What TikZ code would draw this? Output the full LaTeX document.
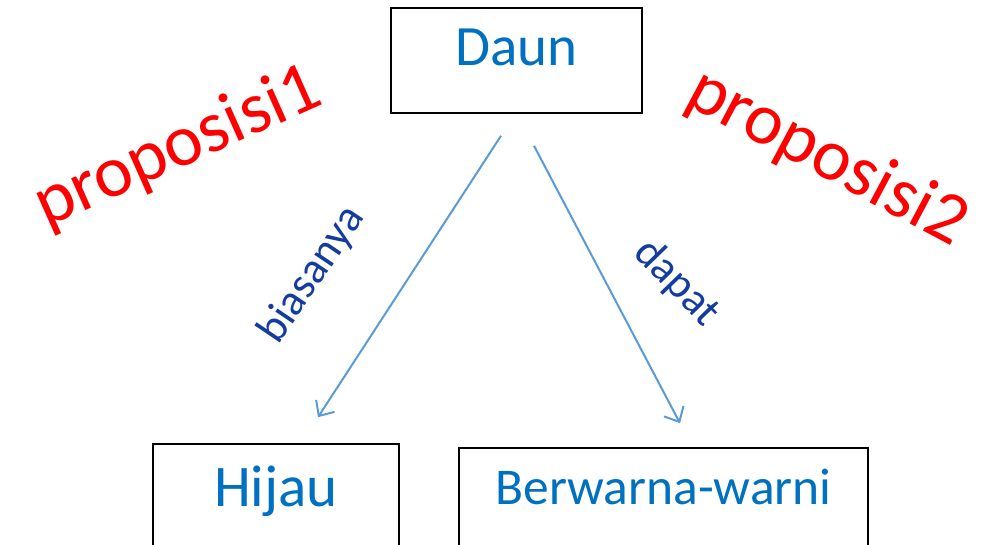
\documentclass[tikz,border=0pt]{standalone}
\usepackage{fontspec}
\setmainfont{Carlito}
\usepackage{xcolor}
\usepackage{tikz}
\usetikzlibrary{calc,arrows.meta}

\definecolor{boxtext}{RGB}{0,112,192}
\definecolor{linkblue}{RGB}{91,155,213}
\definecolor{labelblue}{RGB}{20,60,160}

\begin{document}
\begin{tikzpicture}[x=1pt,y=-1pt,
  box/.style={draw=black,line width=1.6pt,inner sep=0pt,anchor=base,text=boxtext},
  link/.style={draw=linkblue,line width=2pt,-{Straight Barb[length=12pt,width=22pt,line width=2pt]}},
  rel/.style={text=labelblue,font=\fontsize{44}{48}\selectfont},
  prop/.style={text=red,font=\fontsize{73}{80}\selectfont}]
  \clip (0,0) rectangle (1000,545);

  \node[box,minimum width=251pt,text height=58pt,text depth=47pt,
    font=\fontsize{57}{62}\selectfont] (daun) at (516.5,66) {Daun};
  \node[box,minimum width=246pt,text height=62pt,text depth=120pt,
    font=\fontsize{59}{64}\selectfont] (hijau) at (276,506) {Hijau};
  \node[box,minimum width=409pt,text height=56pt,text depth=120pt,
    font=\fontsize{51.5}{56}\selectfont] (warni) at (663.5,504) {Berwarna-warni};

  % connectors
  \draw[link] ($(daun.south)+(-15.5,22)$) -- ($(hijau.north)+(42,-26)$);
  \draw[link] ($(daun.south)+(17.5,32)$) -- ($(warni.north)+(16.5,-24)$);

  \node[rel,rotate=56] (biasa) at (312,275) {biasanya};
  \node[rel,rotate=-46] (dapat) at (677,283) {dapat};

  \node[prop,rotate=24] (prop1) at (178,148) {proposisi1};
  \node[prop,rotate=-28] (prop2) at (827,158) {proposisi2};
\end{tikzpicture}
\end{document}
